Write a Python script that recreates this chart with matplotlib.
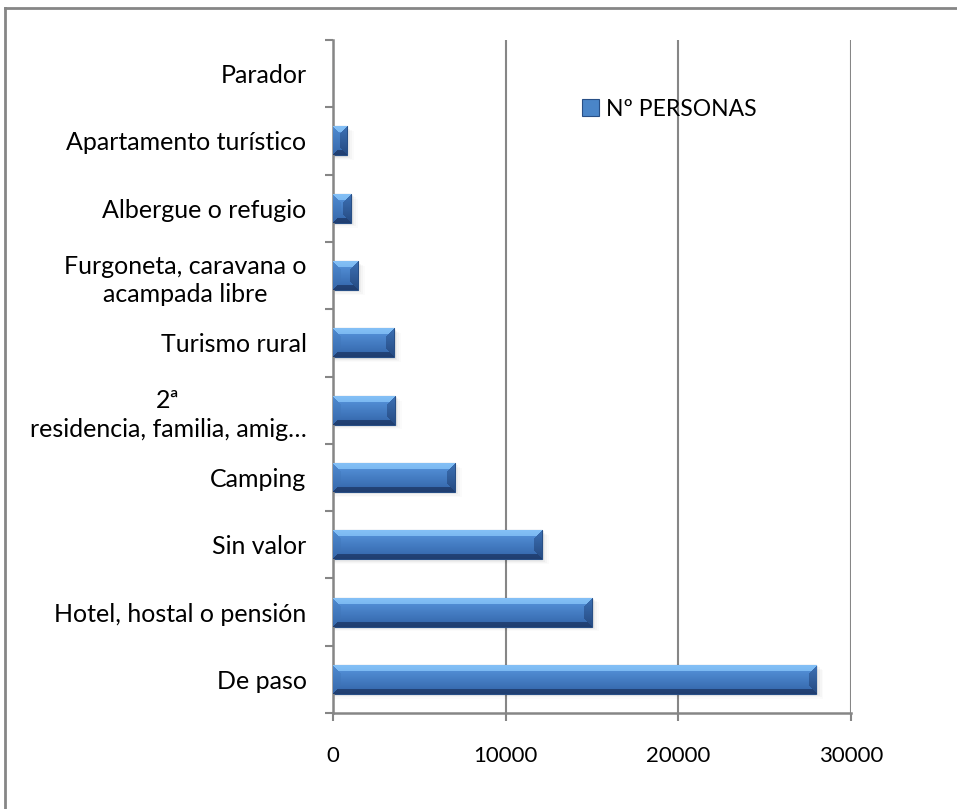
"""
Barras horizontales: alojamiento de los visitantes (Nº PERSONAS).
"""

import numpy as np
import matplotlib
matplotlib.use('Agg')
import matplotlib.pyplot as plt
from matplotlib.lines import Line2D

# Datos (de abajo hacia arriba, como en el gráfico)
categorias = ['De paso', 'Hotel, hostal o pensión', 'Sin valor', 'Camping',
              '2ª\nresidencia, familia, amig…', 'Turismo rural',
              'Furgoneta, caravana o\nacampada libre', 'Albergue o refugio',
              'Apartamento turístico', 'Parador']
personas = [28000, 15000, 12100, 7050, 3580, 3520, 1430, 1040, 790, 0]
serie = 'Nº PERSONAS'
xticks = [0, 10000, 20000, 30000]

plt.rcParams['font.family'] = ['Lato', 'DejaVu Sans']
GRIS = '#868686'

W, H = 957, 809
fig = plt.figure(figsize=(W / 100, H / 100), dpi=100)
ax = fig.add_axes([333 / W, 1 - 713 / H, (851 - 333) / W, (713 - 40) / H])

y = np.arange(len(categorias))
alto = 0.43
ax.set_xlim(0, 30000)
ax.set_ylim(-0.5, len(categorias) - 0.5)

# Sombra suave bajo cada barra
for k, a in enumerate([0.05, 0.035, 0.025, 0.015]):
    ax.barh(y - 0.018 * (k + 1), [p + 100 * (k + 1) if p > 0 else 0 for p in personas],
            height=alto, color='black', alpha=a, linewidth=0, zorder=1)

barras = ax.barh(y, personas, height=alto, color='#4a85c8', edgecolor='#284f86',
                 linewidth=0.8, label=serie, zorder=2)


def bisel(ancho_px, alto_px, b=8):
    """Imagen RGB con el efecto biselado de Excel."""
    ancho_px = max(int(round(ancho_px)), 2)
    alto_px = max(int(round(alto_px)), 2)
    img = np.zeros((alto_px, ancho_px, 3))
    yy, xx = np.mgrid[0:alto_px, 0:ancho_px]
    d = np.stack([yy, alto_px - 1 - yy, xx, ancho_px - 1 - xx])
    idx = np.argmin(d, axis=0)
    dmin = np.min(d, axis=0)
    # cara central con degradado vertical
    t = (yy / (alto_px - 1))[..., None]
    cara = np.array([88, 150, 222]) * (1 - t) + np.array([50, 100, 168]) * t
    img[:] = cara
    # biseles: superior, inferior, izquierdo, derecho (con degradado)
    sup = np.array([132, 192, 246]) * (1 - t) + np.array([90, 155, 225]) * t
    inf = np.array([48, 92, 155]) * (1 - t) + np.array([32, 62, 112]) * t
    izq = np.array([78, 138, 208]) * (1 - t) + np.array([55, 105, 172]) * t
    der = np.array([60, 112, 180]) * (1 - t) + np.array([38, 75, 130]) * t
    lim = [6, 5, b, b]
    for i, col in enumerate([sup, inf, izq, der]):
        m = (idx == i) & (dmin < lim[i])
        img[m] = col[m]
    return img / 255.0


fig.canvas.draw()
px_x = ax.transData.transform([(1, 0)])[0][0] - ax.transData.transform([(0, 0)])[0][0]
px_y = ax.transData.transform([(0, 1)])[0][1] - ax.transData.transform([(0, 0)])[0][1]
for yi, p in zip(y, personas):
    if p <= 0:
        continue
    img = bisel(p * px_x, alto * px_y)
    ax.imshow(img, extent=(0, p, yi - alto / 2, yi + alto / 2), aspect='auto',
              interpolation='bilinear', zorder=3)
ax.set_xlim(0, 30000)
ax.set_ylim(-0.5, len(categorias) - 0.5)

# Rejilla y ejes
ax.set_xticks(xticks)
ax.set_xticklabels([str(v) for v in xticks], fontsize=16)
ax.xaxis.grid(True, color=GRIS, linewidth=1.5, zorder=0)
ax.set_axisbelow(True)
ax.set_yticks(y)
ax.set_yticklabels(categorias, ha='right', multialignment='center', fontsize=18,
                   linespacing=1.3)
ax.set_yticks(np.arange(-0.5, len(categorias)), minor=True)
ax.tick_params(axis='y', which='major', length=0, pad=19)
ax.tick_params(axis='y', which='minor', length=6, width=1.5, color=GRIS)
ax.tick_params(axis='x', length=6, width=1.5, color=GRIS, pad=18)
ax.tick_params(labelcolor='black')
for s in ['top', 'right']:
    ax.spines[s].set_visible(False)
for s in ['left', 'bottom']:
    ax.spines[s].set_color(GRIS)
    ax.spines[s].set_linewidth(1.8)

# Leyenda
leg = ax.legend(loc='center left', bbox_to_anchor=(561 / W, 1 - 109 / H),
                bbox_transform=fig.transFigure, frameon=False, fontsize=16.5,
                handlelength=0.75, handleheight=0.75, handletextpad=0.3)

# Marco exterior
fig.add_artist(Line2D([5 / W, 1.0], [1 - 8 / H, 1 - 8 / H], transform=fig.transFigure,
                      color=GRIS, linewidth=2))
fig.add_artist(Line2D([5 / W, 5 / W], [0.0, 1 - 8 / H], transform=fig.transFigure,
                      color=GRIS, linewidth=2))

fig.savefig('out.png', dpi=100)
